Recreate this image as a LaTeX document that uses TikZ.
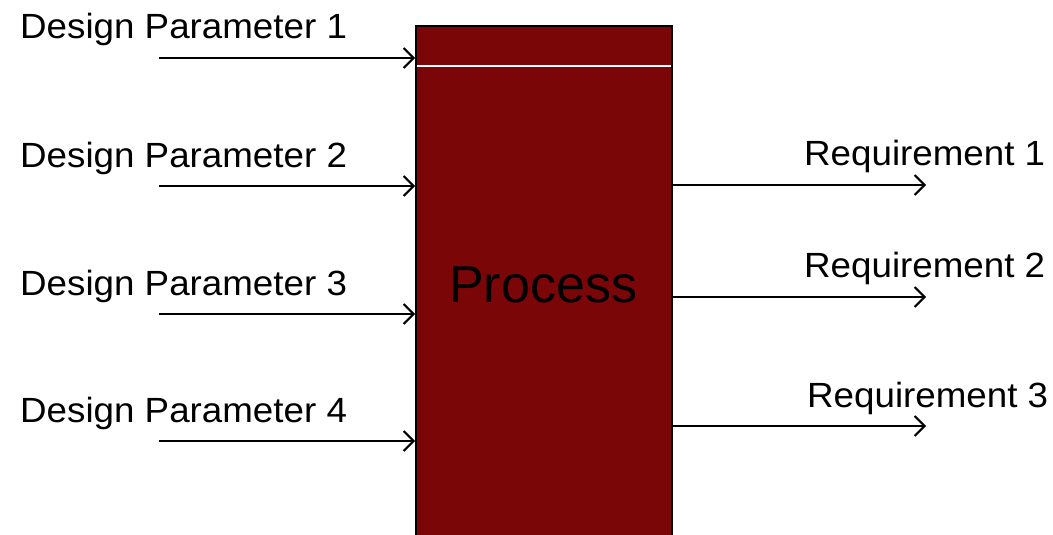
\documentclass[tikz,border=0pt]{standalone}
\usepackage{fontspec}
\setmainfont{Liberation Sans}
\newfontfamily\labelfont{Liberation Sans}[FakeStretch=1.05]
\usetikzlibrary{arrows.meta}
\definecolor{procred}{RGB}{123,6,8}
\begin{document}
\begin{tikzpicture}[x=1pt,y=-1pt,
  label/.style={font=\labelfont\fontsize{35}{40}\selectfont, inner sep=0pt, anchor=base west},
  flow/.style={line width=2pt, -{Straight Barb[length=10pt,width=20pt,line width=2pt]}},
  procbox/.style={draw=black, line width=2pt, fill=procred, inner sep=0pt,
    minimum width=256pt, minimum height=540pt, anchor=north west}]
\useasboundingbox (0,0) rectangle (1053,535);
\begin{scope}
\clip (0,0) rectangle (1053,535);
% process block
\node[procbox] (proc) at (415,25) {};
\draw[white, line width=1.5pt] ([xshift=2pt]proc.west |- 0,66) -- ([xshift=-2pt]proc.east |- 0,66);
\node[font=\fontsize{52}{60}\selectfont, inner sep=0pt, anchor=base west] (ptext) at (449,302) {Process};
\end{scope}
% inputs
\foreach \i/\y/\b in {1/58/39, 2/186/167, 3/314/295, 4/441/422} {
  \node[label] (dp\i) at (20,\b) {Design Parameter \i};
  \coordinate (in\i) at (159,\y);
  \draw[flow] (in\i) -- (in\i -| proc.west);
}
% outputs
\foreach \i/\y/\b/\x in {1/185/165/804, 2/297/277/804, 3/426/407/807} {
  \node[label] (rq\i) at (\x,\b) {Requirement \i};
  \coordinate (out\i) at (926,\y);
  \draw[flow] (out\i -| proc.east) -- (out\i);
}
\end{tikzpicture}
\end{document}
